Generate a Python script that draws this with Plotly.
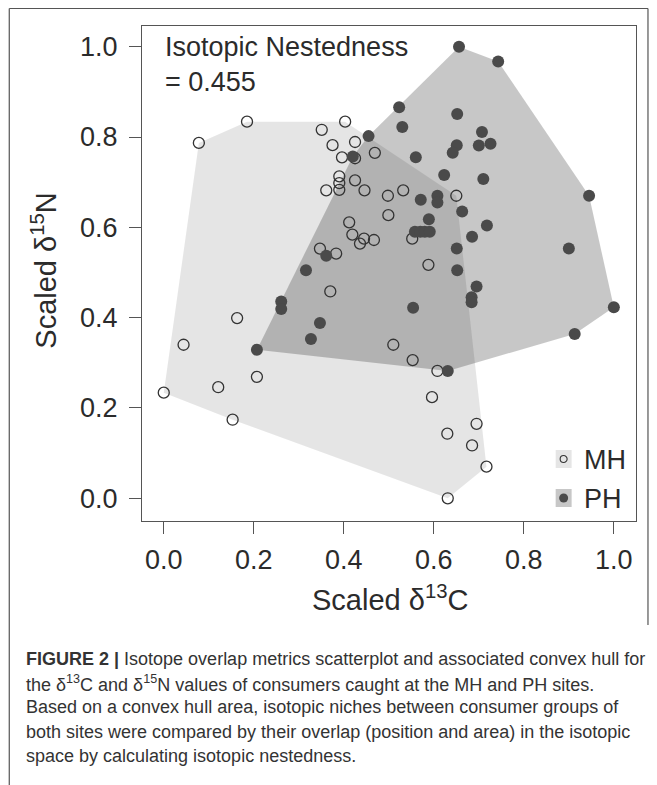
import plotly.graph_objects as go

# ---------------- data ----------------
mh_x = [0.000, 0.044, 0.121, 0.153, 0.163, 0.207, 0.078, 0.185, 0.351, 0.403,
        0.375, 0.425, 0.396, 0.425, 0.469, 0.390, 0.390, 0.390, 0.361, 0.425,
        0.446, 0.498, 0.532, 0.499, 0.412, 0.419, 0.436, 0.445, 0.467, 0.347,
        0.383, 0.370, 0.552, 0.588, 0.650, 0.510, 0.553, 0.608, 0.596, 0.630,
        0.695, 0.685, 0.717, 0.631]
mh_y = [0.234, 0.340, 0.246, 0.174, 0.399, 0.269, 0.787, 0.834, 0.816, 0.834,
        0.782, 0.789, 0.755, 0.753, 0.765, 0.713, 0.698, 0.683, 0.682, 0.704,
        0.682, 0.670, 0.682, 0.627, 0.611, 0.584, 0.564, 0.575, 0.572, 0.553,
        0.542, 0.458, 0.575, 0.517, 0.670, 0.340, 0.306, 0.282, 0.224, 0.143,
        0.165, 0.117, 0.070, 0.000]

ph_x = [0.656, 0.743, 0.523, 0.530, 0.455, 0.420, 0.652, 0.560, 0.651, 0.642,
        0.707, 0.700, 0.726, 0.623, 0.710, 0.571, 0.608, 0.608, 0.663, 0.589,
        0.718, 0.945, 0.685, 0.558, 0.570, 0.580, 0.591, 0.651, 0.900, 0.652,
        0.695, 0.684, 0.684, 0.554, 1.000, 0.913, 0.631, 0.361, 0.316, 0.261,
        0.261, 0.347, 0.327, 0.207]
ph_y = [1.000, 0.967, 0.866, 0.822, 0.802, 0.757, 0.851, 0.755, 0.782, 0.765,
        0.811, 0.781, 0.785, 0.716, 0.707, 0.661, 0.670, 0.655, 0.635, 0.618,
        0.604, 0.670, 0.579, 0.590, 0.590, 0.590, 0.590, 0.553, 0.553, 0.505,
        0.469, 0.445, 0.434, 0.422, 0.423, 0.364, 0.282, 0.537, 0.505, 0.436,
        0.419, 0.388, 0.353, 0.329]

x_ticks = [0.0, 0.2, 0.4, 0.6, 0.8, 1.0]
y_ticks = [0.0, 0.2, 0.4, 0.6, 0.8, 1.0]
tick_text = ["0.0", "0.2", "0.4", "0.6", "0.8", "1.0"]
groups = ["MH", "PH"]
nestedness = 0.455

caption_lines = [
    "<b>FIGURE 2 |</b> Isotope overlap metrics scatterplot and associated convex hull for",
    "the δ<sup>13</sup>C and δ<sup>15</sup>N values of consumers caught at the MH and PH sites.",
    "Based on a convex hull area, isotopic niches between consumer groups of",
    "both sites were compared by their overlap (position and area) in the isotopic",
    "space by calculating isotopic nestedness.",
]


def convex_hull(xs, ys):
    pts = sorted(set(zip(xs, ys)))

    def cross(o, a, b):
        return (a[0] - o[0]) * (b[1] - o[1]) - (a[1] - o[1]) * (b[0] - o[0])

    lower, upper = [], []
    for p in pts:
        while len(lower) >= 2 and cross(lower[-2], lower[-1], p) <= 0:
            lower.pop()
        lower.append(p)
    for p in reversed(pts):
        while len(upper) >= 2 and cross(upper[-2], upper[-1], p) <= 0:
            upper.pop()
        upper.append(p)
    hull = lower[:-1] + upper[:-1]
    hull.append(hull[0])
    return [p[0] for p in hull], [p[1] for p in hull]


# ---------------- geometry ----------------
W, H = 657, 785
PL, PR, PT, PB = 141.5, 636.5, 26, 521
PW, PH_ = PR - PL, PB - PT


def fx(px):
    return (px - PL) / PW


def fy(py):
    return (PB - py) / PH_


FONT = "Liberation Sans, Arial, sans-serif"
TXT = "#2b2b2b"

MH_FILL = "rgba(0,0,0,0.10)"
PH_FILL = "rgba(0,0,0,0.22)"

fig = go.Figure()

hx, hy = convex_hull(mh_x, mh_y)
fig.add_trace(go.Scatter(x=hx, y=hy, mode="lines", fill="toself",
                         fillcolor=MH_FILL, line=dict(width=0),
                         hoverinfo="skip", showlegend=False))
hx, hy = convex_hull(ph_x, ph_y)
fig.add_trace(go.Scatter(x=hx, y=hy, mode="lines", fill="toself",
                         fillcolor=PH_FILL, line=dict(width=0),
                         hoverinfo="skip", showlegend=False))

fig.add_trace(go.Scatter(x=mh_x, y=mh_y, mode="markers", name=groups[0],
                         marker=dict(symbol="circle", size=11, color="rgba(0,0,0,0)",
                                     line=dict(color="#333333", width=1.3)),
                         showlegend=False))
fig.add_trace(go.Scatter(x=ph_x, y=ph_y, mode="markers", name=groups[1],
                         marker=dict(symbol="circle", size=12, color="#4a4a4a",
                                     line=dict(width=0)),
                         showlegend=False))

shapes = []
# outer figure border
border = "#555555"
shapes.append(dict(type="line", xref="paper", yref="paper", x0=fx(8.5), x1=fx(648.5),
                   y0=fy(8.5), y1=fy(8.5), line=dict(color=border, width=1.2)))
shapes.append(dict(type="line", xref="paper", yref="paper", x0=fx(8.5), x1=fx(8.5),
                   y0=fy(8.5), y1=fy(785), line=dict(color=border, width=1.2)))
shapes.append(dict(type="line", xref="paper", yref="paper", x0=fx(648.5), x1=fx(648.5),
                   y0=fy(8.5), y1=fy(625), line=dict(color=border, width=1.2)))

# legend boxes
leg_rows = [(459, "rgba(0,0,0,0.10)"), (498, "rgba(0,0,0,0.22)")]
for cy, col in leg_rows:
    shapes.append(dict(type="rect", xref="paper", yref="paper",
                       x0=fx(556), x1=fx(572), y0=fy(cy - 9), y1=fy(cy + 9),
                       fillcolor=col, line=dict(width=0), layer="above"))
# legend symbols
shapes.append(dict(type="circle", xref="paper", yref="paper",
                   x0=fx(560.5), x1=fx(567.5), y0=fy(459 - 3.5), y1=fy(459 + 3.5),
                   line=dict(color="#333333", width=1.1), fillcolor="rgba(0,0,0,0)",
                   layer="above"))
shapes.append(dict(type="circle", xref="paper", yref="paper",
                   x0=fx(559.5), x1=fx(568.5), y0=fy(498 - 4.5), y1=fy(498 + 4.5),
                   line=dict(width=0), fillcolor="#4a4a4a", layer="above"))

annotations = []
for (cy, _), g in zip(leg_rows, groups):
    annotations.append(dict(text=g, x=fx(582), y=fy(cy + 1), xref="paper", yref="paper",
                            xanchor="left", yanchor="middle", showarrow=False,
                            font=dict(family=FONT, size=27, color=TXT)))

annotations.append(dict(text="Isotopic Nestedness<br>= " + f"{nestedness:.3f}",
                        x=fx(163), y=fy(30), xref="paper", yref="paper",
                        xanchor="left", yanchor="top", align="left", showarrow=False,
                        font=dict(family=FONT, size=27, color=TXT)))

annotations.append(dict(text="Scaled δ<sup>13</sup>C", x=fx(390), y=fy(598),
                        xref="paper", yref="paper", xanchor="center", yanchor="middle",
                        showarrow=False, font=dict(family=FONT, size=29, color=TXT)))
annotations.append(dict(text="Scaled δ<sup>15</sup>N", x=fx(43), y=fy(271),
                        xref="paper", yref="paper", xanchor="center", yanchor="middle",
                        textangle=-90, showarrow=False,
                        font=dict(family=FONT, size=29, color=TXT)))

for i, line in enumerate(caption_lines):
    annotations.append(dict(text=line, x=fx(23), y=fy(659 + 24.2 * i),
                            xref="paper", yref="paper", xanchor="left", yanchor="middle",
                            showarrow=False, align="left",
                            font=dict(family=FONT, size=18, color="#333333")))

axis_common = dict(showgrid=False, zeroline=False, showline=True, mirror=True,
                   linecolor="#555555", linewidth=1.2, ticks="outside", ticklen=12,
                   tickwidth=1.2, tickcolor="#555555",
                   tickfont=dict(family=FONT, size=27, color=TXT))

fig.update_layout(
    width=W, height=H,
    margin=dict(l=PL, r=W - PR, t=PT, b=H - PB, pad=0),
    paper_bgcolor="white", plot_bgcolor="white",
    xaxis=dict(range=[(PL - 163.3) / 451, (PR - 163.3) / 451],
               tickvals=x_ticks, ticktext=tick_text, ticklabelstandoff=2,
               **axis_common),
    yaxis=dict(range=[(498.3 - PB) / 451.6, (498.3 - PT) / 451.6],
               tickvals=y_ticks, ticktext=tick_text, ticklabelstandoff=6,
               **axis_common),
    shapes=shapes,
    annotations=annotations,
    showlegend=False,
)

fig.write_html("out.html")
